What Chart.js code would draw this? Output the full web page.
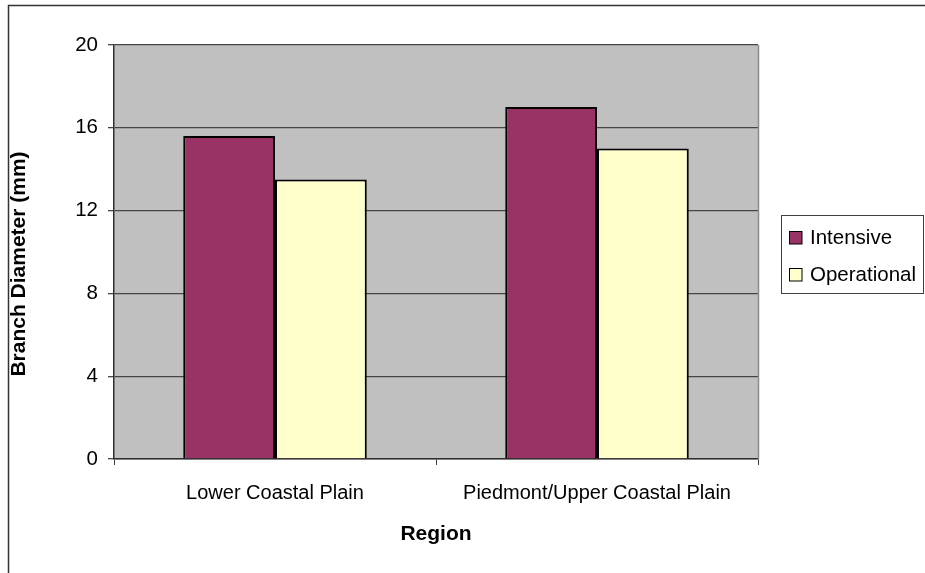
<!DOCTYPE html>
<html>
<head>
<meta charset="utf-8">
<script src="https://cdn.jsdelivr.net/npm/chart.js@4/dist/chart.umd.min.js"></script>
<style>
  html, body { margin: 0; padding: 0; background: #ffffff; }
  #wrap { width: 925px; height: 573px; }
</style>
</head>
<body>
<div id="wrap"><canvas id="chart" width="925" height="573"></canvas></div>
<script>
// Branch diameter by region and management regime
const regions = ['Lower Coastal Plain', 'Piedmont/Upper Coastal Plain'];
const intensive = [15.6, 17.0];
const operational = [13.5, 15.0];
const seriesNames = ['Intensive', 'Operational'];
const seriesColors = ['#993366', '#FFFFCC'];
const yTicks = [0, 4, 8, 12, 16, 20];

const FONT = '"Liberation Sans", Arial, Helvetica, sans-serif';

// Grey plot area, right frame line, outer frame, rotated axis title and boxed legend
const decorations = {
  id: 'decorations',
  beforeDraw(chart) {
    const { ctx, chartArea: a } = chart;
    ctx.save();
    ctx.fillStyle = '#C0C0C0';
    ctx.fillRect(a.left, a.top, a.right - a.left, a.bottom - a.top);
    ctx.restore();
  },
  afterDraw(chart) {
    const { ctx, chartArea: a } = chart;
    ctx.save();
    // right edge of plot area
    ctx.strokeStyle = '#8a8a8a';
    ctx.lineWidth = 1.5;
    ctx.beginPath();
    ctx.moveTo(Math.round(a.right) + 0.5, a.top);
    ctx.lineTo(Math.round(a.right) + 0.5, a.bottom);
    ctx.stroke();

    // outer chart frame
    ctx.strokeStyle = '#333333';
    ctx.lineWidth = 1.5;
    ctx.beginPath();
    ctx.moveTo(8.5, 573);
    ctx.lineTo(8.5, 5.5);
    ctx.lineTo(925, 5.5);
    ctx.stroke();

    // y-axis title
    ctx.fillStyle = '#000000';
    ctx.font = 'bold 21px ' + FONT;
    ctx.textAlign = 'center';
    ctx.textBaseline = 'middle';
    ctx.translate(19, 264);
    ctx.rotate(-Math.PI / 2);
    ctx.fillText('Branch Diameter (mm)', 0, 0);
    ctx.setTransform(1, 0, 0, 1, 0, 0);

    // legend
    ctx.strokeStyle = '#404040';
    ctx.lineWidth = 1;
    ctx.strokeRect(781.5, 215.5, 142, 78);
    ctx.font = '20.5px ' + FONT;
    ctx.textAlign = 'left';
    ctx.textBaseline = 'middle';
    const rows = [237.5, 274.5];
    chart.data.datasets.forEach((ds, i) => {
      const cy = rows[i];
      ctx.fillStyle = ds.backgroundColor;
      ctx.fillRect(789, cy - 6.5, 13, 13);
      ctx.strokeStyle = '#000000';
      ctx.strokeRect(789.5, cy - 6, 12.5, 12.5);
      ctx.fillStyle = '#000000';
      ctx.fillText(ds.label, 810, cy + 1);
    });
    ctx.restore();
  }
};

new Chart(document.getElementById('chart'), {
  type: 'bar',
  data: {
    labels: regions,
    datasets: [
      { label: seriesNames[0], data: intensive, backgroundColor: seriesColors[0], borderColor: '#000000', borderWidth: 2 },
      { label: seriesNames[1], data: operational, backgroundColor: seriesColors[1], borderColor: '#000000', borderWidth: 2 }
    ]
  },
  options: {
    responsive: false,
    animation: false,
    devicePixelRatio: 1,
    layout: { padding: { left: 0, top: 45, right: 167, bottom: 0 } },
    datasets: { bar: { categoryPercentage: 0.57, barPercentage: 1.0 } },
    plugins: {
      legend: { display: false },
      tooltip: { enabled: false },
      title: { display: false }
    },
    scales: {
      x: {
        grid: { display: true, offset: true, drawOnChartArea: false, drawTicks: true, tickLength: 6, color: '#404040', lineWidth: 1 },
        border: { display: true, color: '#303030', width: 1.5 },
        ticks: { color: '#000000', font: { family: FONT, size: 20 }, padding: 16, maxRotation: 0, autoSkip: false },
        title: { display: true, text: 'Region', color: '#000000', font: { family: FONT, size: 21, weight: 'bold' }, padding: { top: 0, bottom: 26 } },
        afterFit(scale) { scale.height = 114; }
      },
      y: {
        min: 0,
        max: 20,
        afterBuildTicks(scale) { scale.ticks = yTicks.map(v => ({ value: v })); },
        grid: { display: true, drawOnChartArea: true, drawTicks: true, tickLength: 6, color: '#454545', lineWidth: 1.3 },
        border: { display: true, color: '#303030', width: 1.5 },
        ticks: { color: '#000000', font: { family: FONT, size: 20.5 }, padding: 10 },
        afterFit(scale) { scale.width = 114; }
      }
    }
  },
  plugins: [decorations]
});
</script>
</body>
</html>
